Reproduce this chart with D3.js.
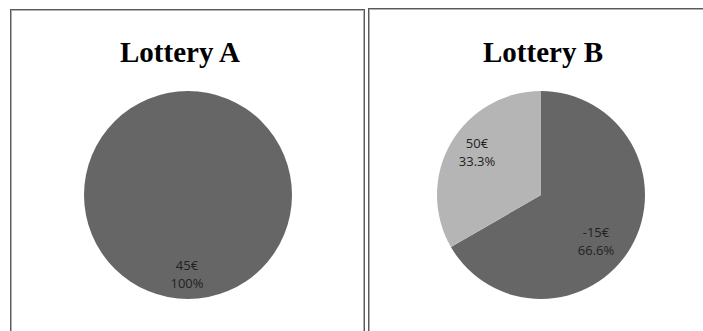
<!DOCTYPE html>
<html>
<head>
<meta charset="utf-8">
<script src="https://cdn.jsdelivr.net/npm/d3@7"></script>
<style>
  html, body { margin: 0; padding: 0; background: #fff; }
  svg { display: block; }
</style>
</head>
<body>
<svg id="chart" width="703" height="331"></svg>
<script>
// Two lotteries, each a pie of outcome (payoff) and probability share
const lotteries = ["Lottery A", "Lottery B"];
const payoffsA = ["45€"];
const sharesA = [100];
const payoffsB = ["-15€", "50€"];
const sharesB = [66.6, 33.3];
const shareLabelsA = ["100%"];
const shareLabelsB = ["66.6%", "33.3%"];

const svg = d3.select("#chart");

const panels = [
  { title: lotteries[0], payoffs: payoffsA, shares: sharesA, labels: shareLabelsA,
    box: { x: 10, y: 9, w: 354 }, cx: 188, cy: 195, titleX: 180,
    labelPos: [[187, 270]] },
  { title: lotteries[1], payoffs: payoffsB, shares: sharesB, labels: shareLabelsB,
    box: { x: 368, y: 8, w: 345 }, cx: 541, cy: 195, titleX: 543,
    labelPos: [[596, 237], [477, 148]] }
];

const color = d3.scaleOrdinal().domain([0, 1]).range(["#666666", "#b5b5b5"]);
const radius = 104;
const pie = d3.pie().sort(null).value(d => d.share);
const arc = d3.arc().innerRadius(0).outerRadius(radius);

panels.forEach(p => {
  const g = svg.append("g");

  // panel frame: dark outer line with a softer inner line
  g.append("rect")
    .attr("x", p.box.x + 0.5).attr("y", p.box.y + 0.5)
    .attr("width", p.box.w).attr("height", 400)
    .attr("fill", "none").attr("stroke", "#5a5a5a").attr("stroke-width", 1);
  g.append("rect")
    .attr("x", p.box.x + 1.5).attr("y", p.box.y + 1.5)
    .attr("width", p.box.w - 2).attr("height", 400)
    .attr("fill", "none").attr("stroke", "#b0b0b0").attr("stroke-width", 1);

  g.append("text")
    .attr("x", p.titleX).attr("y", 62)
    .attr("text-anchor", "middle")
    .attr("font-family", "Liberation Serif, Times New Roman, serif")
    .attr("font-weight", "bold")
    .attr("font-size", 29)
    .attr("fill", "#000")
    .text(p.title);

  const data = p.shares.map((s, i) => ({ share: s, payoff: p.payoffs[i], label: p.labels[i], i }));
  const pg = g.append("g").attr("transform", `translate(${p.cx},${p.cy})`);
  pg.selectAll("path")
    .data(pie(data))
    .join("path")
    .attr("d", arc)
    .attr("fill", d => color(d.data.i));

  data.forEach((d, i) => {
    const [lx, ly] = p.labelPos[i];
    const t = g.append("text")
      .attr("x", lx).attr("y", ly)
      .attr("text-anchor", "middle")
      .attr("font-family", "Open Sans, Liberation Sans, sans-serif")
      .attr("font-size", 13)
      .attr("fill", "#222");
    t.append("tspan").attr("x", lx).attr("dy", 0).text(d.payoff);
    t.append("tspan").attr("x", lx).attr("dy", 18).text(d.label);
  });
});
</script>
</body>
</html>
